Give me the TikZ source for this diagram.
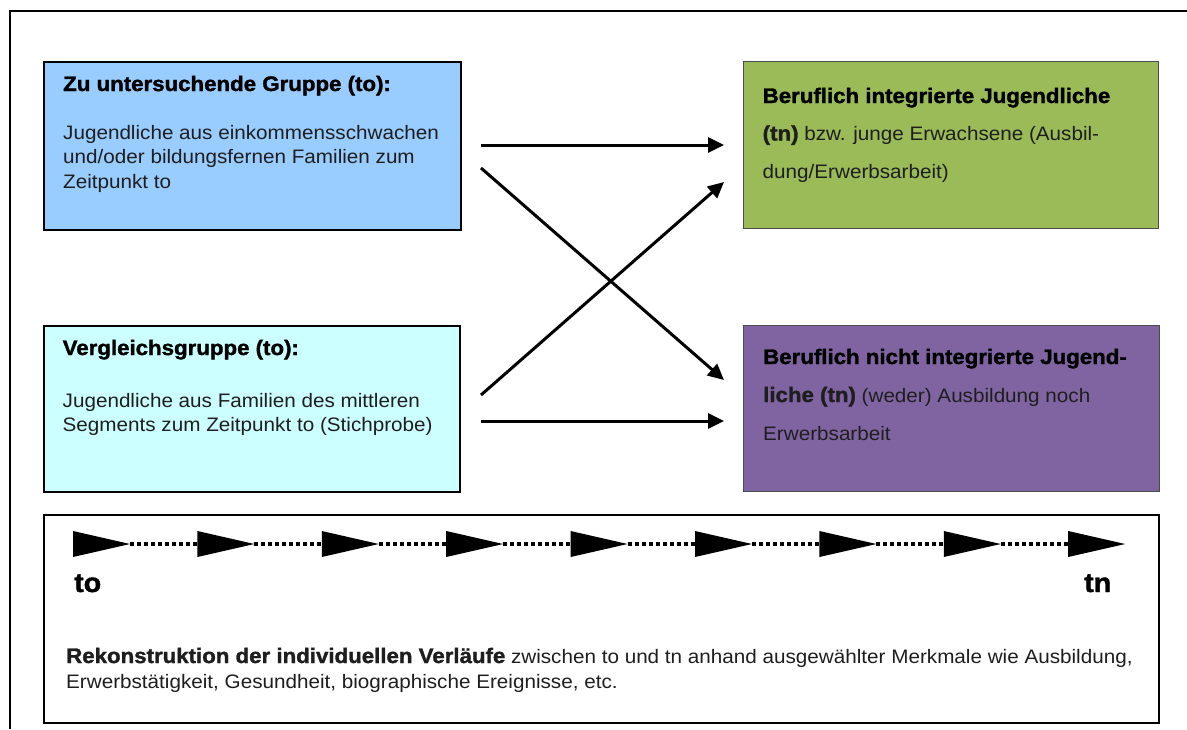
\documentclass[tikz,border=0pt]{standalone}
\usepackage{fontspec}
\setmainfont{Liberation Sans}[FakeStretch=1.06, BoldFeatures={FakeBold=1.5}]
\usetikzlibrary{arrows.meta,calc}
\definecolor{blueF}{HTML}{99CCFF}
\definecolor{cyanF}{HTML}{CCFFFF}
\definecolor{greenF}{HTML}{9BBB59}
\definecolor{purpleF}{HTML}{8064A2}
\definecolor{txt}{HTML}{1E1E1E}
\newcommand{\bodysize}{\fontsize{19.5}{24}\selectfont}
\newcommand{\headsize}{\fontsize{21}{24}\selectfont\bfseries}
\tikzset{
  box/.style={draw=black, line width=1.6pt, anchor=north west, inner sep=0pt},
  boxg/.style={draw=black!70, line width=1.2pt, anchor=north west, inner sep=0pt},
  line/.style={anchor=base west, inner sep=0pt, text=txt, font=\bodysize},
  headline/.style={anchor=base west, inner sep=0pt, text=black, font=\headsize},
  flow/.style={line width=3pt, -{Triangle[length=16pt,width=15pt]}},
  tri/.style={fill=black},
  dots/.style={line width=4pt, dash pattern=on 4pt off 3pt},
  big/.style={anchor=base west, inner sep=0pt, font=\fontsize{27}{30}\selectfont\bfseries}
}
\begin{document}
\begin{tikzpicture}[x=1pt,y=-1pt]
\useasboundingbox (0,0) rectangle (1187,729);
\fill[white] (0,0) rectangle (1187,729);
% outer frame
\draw[line width=2pt] (10,729) -- (10,10.5) -- (1187,10.5);

% boxes
\node[box, fill=blueF, minimum width=417pt, minimum height=168pt] (blue) at (43,61) {};
\node[box, fill=cyanF, minimum width=416pt, minimum height=166pt] (cyan) at (43,325) {};
\node[boxg, fill=greenF, minimum width=415pt, minimum height=167pt] (green) at (743,61) {};
\node[boxg, fill=purpleF, minimum width=416pt, minimum height=166pt] (purple) at (743,325) {};
\node[box, minimum width=1115pt, minimum height=208pt] (bottom) at (43,514) {};

% blue text
\node[headline] (bh) at (63,91) {Zu untersuchende Gruppe (to):};
\node[line] (b1) at (63,139) {Jugendliche aus einkommensschwachen};
\node[line] (b2) at (63,163.5) {und/oder bildungsfernen Familien zum};
\node[line] (b3) at (63,188) {Zeitpunkt to};

% cyan text
\node[headline] (ch) at (62.5,355) {Vergleichsgruppe (to):};
\node[line] (c1) at (62.5,407) {Jugendliche aus Familien des mittleren};
\node[line] (c2) at (62.5,431.5) {Segments zum Zeitpunkt to (Stichprobe)};

% green text
\node[headline] (gh) at (762.5,103) {Beruflich integrierte Jugendliche};
\node[line] (g1) at (762.5,140.5) {{\headsize (tn)} bzw. junge Erwachsene (Ausbil-};
\node[line] (g2) at (762.5,178) {dung/Erwerbsarbeit)};

% purple text
\node[headline] (ph) at (763,364) {Beruflich nicht integrierte Jugend-};
\node[line] (p1) at (763,402) {{\headsize liche (tn)} (weder) Ausbildung noch};
\node[line] (p2) at (763,440) {Erwerbsarbeit};

% arrows
\coordinate (s1) at (481,145);
\coordinate (e1) at (724,145);
\coordinate (s2) at (481,168);
\coordinate (e2) at (724,380);
\coordinate (s3) at (481,395);
\coordinate (e3) at (724,182);
\coordinate (s4) at (481,421);
\coordinate (e4) at (724,421);
\draw[flow] (s1) -- (e1);
\draw[flow] (s2) -- (e2);
\draw[flow] (s3) -- (e3);
\draw[flow] (s4) -- (e4);

% timeline
\foreach \i in {0,...,8} {
  \coordinate (t\i) at ({73+124.4*\i},544);
  \fill[tri] ($(t\i)+(0,-13)$) -- ($(t\i)+(57,0)$) -- ($(t\i)+(0,13)$) -- cycle;
}
\foreach \i [evaluate=\i as \j using int(\i+1)] in {0,...,7} {
  \draw[dots] ($(t\i)+(57,0)$) -- (t\j);
}
\node[big] (to) at (74,592) {to};
\node[big] (tn) at (1084,592) {tn};

% bottom text
\node[line] (r1) at (66,663) {{\headsize Rekonstruktion der individuellen Verläufe} zwischen to und tn anhand ausgewählter Merkmale wie Ausbildung,};
\node[line] (r2) at (66,688) {Erwerbstätigkeit, Gesundheit, biographische Ereignisse, etc.};
\end{tikzpicture}
\end{document}
